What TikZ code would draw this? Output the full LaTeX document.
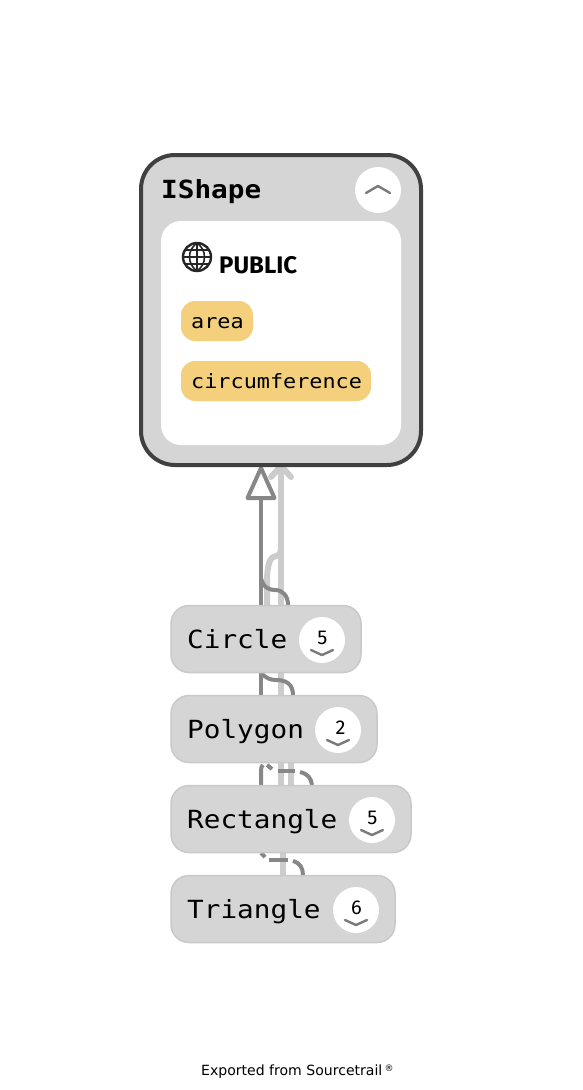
\documentclass[tikz,border=0pt]{standalone}
\usepackage{fontspec}
\usetikzlibrary{arrows.meta,calc}
\setmainfont{DejaVu Sans}
\newfontfamily\codefont[FakeStretch=1.108]{DejaVu Sans Mono}
\newfontfamily\headfont{Fira Sans}
\definecolor{boxfill}{HTML}{D5D5D5}
\definecolor{boxedge}{HTML}{C9C9C9}
\definecolor{frame}{HTML}{404040}
\definecolor{pill}{HTML}{F4D07C}
\definecolor{darkedge}{HTML}{878787}
\definecolor{lightedge}{HTML}{CCCCCC}
\tikzset{
 parentbox/.style={draw=frame,fill=boxfill,line width=4pt,rounded corners=34pt,inner sep=0pt},
 panelbox/.style={fill=white,rounded corners=20pt,inner sep=0pt},
 pillbox/.style={fill=pill,rounded corners=14pt,inner sep=0pt,minimum height=40pt},
 childbox/.style={draw=boxedge,fill=boxfill,line width=1.5pt,rounded corners=18pt,inner sep=0pt,minimum height=67pt},
 badge/.style={circle,fill=white,minimum size=46pt,inner sep=0pt},
 childlabel/.style={anchor=base west,inner sep=0pt,font=\fontsize{25pt}{30pt}\selectfont\codefont},
 parentlabel/.style={anchor=base west,inner sep=0pt,font=\fontsize{25pt}{30pt}\selectfont\codefont\bfseries},
 pilllabel/.style={anchor=base west,inner sep=0pt,font=\fontsize{19.7pt}{24pt}\selectfont\codefont},
 countlabel/.style={inner sep=0pt,font=\fontsize{20pt}{22pt}\selectfont\headfont},
 inherit/.style={draw=darkedge,line width=4pt},
 inheritlight/.style={draw=lightedge,line width=6pt},
 curveedge/.style={draw=darkedge,line width=4pt},
 chevron/.style={draw=black!65,line width=2.4pt,line cap=round,line join=round,opacity=.8},
 globeline/.style={draw=black!85,line width=1.6pt},
}
\begin{document}
\begin{tikzpicture}[x=1pt,y=-1pt]
\useasboundingbox (0,0) rectangle (582,1090);
% edges
\coordinate (tipd) at (261,468);
\coordinate (based) at (261,498);
\coordinate (tipl) at (281,466);
\coordinate (circD) at (261,605);
\coordinate (circL) at (281,605);
\coordinate (circL2) at (267,605);
\coordinate (circD2) at (288,605);
\draw[inheritlight] (circL) -- (tipl);
\draw[inheritlight,line cap=round,line join=round] (271,477) -- (tipl) -- (291,477);
\draw[draw=lightedge,line width=6pt] (circL2) -- (267,582) .. controls (267,565) and (270,556) .. (276,556) .. controls (280,555) and (281,553) .. (281,545);
\draw[inherit] (circD) -- (based);
\draw[inherit,fill=white,line join=round] (tipd) -- (247.5,498) -- (274.5,498) -- cycle;
\draw[curveedge] (261,578) .. controls (263,588) and (270,590) .. (275,590) .. controls (283,590) and (288,596) .. (circD2);
% polygon-circle
\coordinate (p1) at (261,673);
\coordinate (p2) at (261,695);
\coordinate (p3) at (281,673);
\coordinate (p4) at (281,695);
\draw[inheritlight] (p3) -- (p4);
\draw[inherit] (p1) -- (p2);
\draw[curveedge] (261,673) .. controls (266,678) and (270,680) .. (276,680) .. controls (286,680) and (293,684) .. (293,695);
% rectangle-polygon
\coordinate (r1) at (281,763);
\coordinate (r2) at (281,785);
\coordinate (r3) at (291,763);
\coordinate (r4) at (291,785);
\draw[inheritlight] (r1) -- (r2);
\draw[inheritlight] (r3) -- (r4);
\draw[curveedge] (261,785) -- (261,770) .. controls (261,767) and (262,766) .. (263,765);
\draw[curveedge] (267,765) -- (272,769);
\draw[curveedge] (278,771) -- (295,771);
\draw[curveedge] (300,772) .. controls (308,774) and (311,778) .. (312,785);
% triangle-rectangle
\coordinate (t1) at (283,853);
\coordinate (t2) at (283,875);
\draw[inheritlight] (t1) -- (t2);
\draw[curveedge] (261,853) -- (265,857);
\draw[curveedge] (269,860) -- (288,860);
\draw[curveedge] (293,861) .. controls (300,863) and (303,868) .. (303,875);
% parent
\node[parentbox,minimum width=280pt,minimum height=310pt] (ishape) at (281,310) {};
\node[panelbox,minimum width=240pt,minimum height=224pt] (panel) at (281,333) {};
\node[parentlabel] (ishapelabel) at (161,198) {IShape};
\node[badge] (collapse) at (378,190) {};
\draw[chevron] (366,193) -- (378,186) -- (390,193);
% globe
\node[circle,globeline,line width=2.4pt,minimum size=28pt,inner sep=0pt] (globe) at (197,257) {};
\draw[globeline] (197,243) -- (197,271) (183,257) -- (211,257) (185,250) -- (209,250) (185,264) -- (209,264);
\draw[globeline] (197,243) .. controls (187,250) and (187,264) .. (197,271) (197,243) .. controls (207,250) and (207,264) .. (197,271);
\node[anchor=base west,inner sep=0pt,font=\fontsize{24pt}{26pt}\selectfont\headfont\bfseries] (public) at (219,273) {PUBLIC};
\node[pillbox,minimum width=72pt] (area) at (217,321) {};
\node[pilllabel] (arealabel) at (191,328) {area};
\node[pillbox,minimum width=190pt] (circ) at (276,381) {};
\node[pilllabel] (circlabel) at (191,388) {circumference};
% children
\node[childbox,minimum width=190pt] (circle) at (266,639) {};
\node[childlabel] (circlelabel) at (187,648) {Circle};
\node[badge] (b1) at (322,640) {};
\node[countlabel] at (322.5,638) {5};
\draw[chevron] (311,650) -- (322,655) -- (333,650);
\node[childbox,minimum width=206pt] (polygon) at (274,729) {};
\node[childlabel] (polygonlabel) at (187,738) {Polygon};
\node[badge] (b2) at (338,730) {};
\node[countlabel] at (340.5,728) {2};
\draw[chevron] (327,740) -- (338,745) -- (349,740);
\node[childbox,minimum width=240pt] (rectangle) at (291,819) {};
\node[childlabel] (rectanglelabel) at (187,828) {Rectangle};
\node[badge] (b3) at (372,820) {};
\node[countlabel] at (372.5,818) {5};
\draw[chevron] (361,830) -- (372,835) -- (383,830);
\node[childbox,minimum width=224pt] (triangle) at (283,909) {};
\node[childlabel] (trianglelabel) at (187,918) {Triangle};
\node[badge] (b4) at (356,910) {};
\node[countlabel] at (356.5,908) {6};
\draw[chevron] (345,920) -- (356,925) -- (367,920);
% footer
\node[anchor=base west,inner sep=0pt,font=\fontsize{14.05pt}{16pt}\selectfont] (footer) at (201,1075) {Exported from Sourcetrail};
\node[anchor=base west,inner sep=0pt,font=\fontsize{9pt}{10pt}\selectfont] (reg) at (384.5,1071) {®};
\end{tikzpicture}
\end{document}
